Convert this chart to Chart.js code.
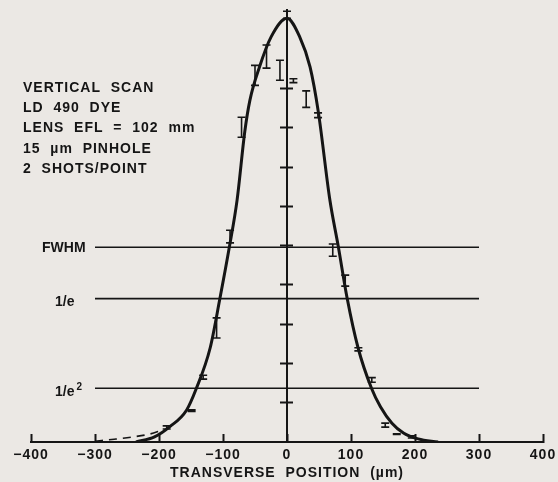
<!DOCTYPE html>
<html>
<head>
<meta charset="utf-8">
<script src="https://cdn.jsdelivr.net/npm/chart.js@4.4.1/dist/chart.umd.min.js"></script>
<style>
  html, body { margin: 0; padding: 0; background: #ebe8e4; }
  #wrap { width: 558px; height: 482px; position: relative; }
</style>
</head>
<body>
<div id="wrap"><canvas id="beamChart"></canvas></div>
<script>
// ---------------------------
// DATA
// ---------------------------
const xTicks = [-400, -300, -200, -100, 0, 100, 200, 300, 400];
const yTicks = [1, 2, 3, 4, 5, 6, 7, 8, 9];

// fitted profile (solid line)
const fitX = [-236, -207, -183, -157, -142, -120, -105, -90, -78, -66, -58, -43, -25, 0, 20, 36, 49, 67, 80, 94, 111, 132, 146, 164, 182, 205, 236];
const fitY = [0, 0.13, 0.39, 0.81, 1.35, 2.4, 3.64, 4.97, 6.16, 7.9, 8.7, 9.55, 10.31, 10.79, 10.31, 9.55, 8.4, 6.16, 4.99, 3.66, 2.4, 1.37, 0.9, 0.48, 0.23, 0.08, 0];

// left tail of the dashed curve
const tailX = [-300, -270, -240, -215, -195];
const tailY = [0.02, 0.07, 0.13, 0.2, 0.3];

// measured points: position, low end, high end
const pointX = [0, -11, -32, -50, 10, 30, 48.5, -71, -89, 71.5, 91, -110, 111.5, -131, 132.5, -149, 153.5, -188, 171.5, 195];
const pointLow = [10.79, 9.21, 9.52, 9.08, 9.15, 8.52, 8.26, 7.76, 5.07, 4.73, 3.97, 2.65, 2.32, 1.6, 1.52, 0.78, 0.38, 0.33, 0.19, 0.1];
const pointHigh = [10.97, 9.72, 10.11, 9.59, 9.25, 8.94, 8.38, 8.27, 5.39, 5.04, 4.25, 3.16, 2.4, 1.7, 1.64, 0.82, 0.48, 0.41, 0.21, 0.16];

// reference levels
const levelNames = ["FWHM", "1/e", "1/e"];
const levelSup = ["", "", "2"];
const levelY = [4.96, 3.65, 1.37];
const levelFrom = -300;
const levelTo = 300;

const infoLines = ["VERTICAL  SCAN", "LD  490  DYE", "LENS  EFL  =  102  mm", "15  µm  PINHOLE", "2  SHOTS/POINT"];

const ink = "#151515";
const font = "'Liberation Sans', Arial, sans-serif";

// ---------------------------
// DATASETS
// ---------------------------
let datasets = [];

datasets.push({
  data: fitX.map((v, i) => ({ x: v, y: fitY[i] })),
  showLine: true,
  borderColor: ink,
  borderWidth: 3,
  pointRadius: 0,
  cubicInterpolationMode: 'monotone'
});

datasets.push({
  data: tailX.map((v, i) => ({ x: v, y: tailY[i] })),
  showLine: true,
  borderColor: ink,
  borderWidth: 1.6,
  borderDash: [8, 6],
  pointRadius: 0,
  cubicInterpolationMode: 'monotone'
});

levelY.forEach(v => {
  datasets.push({
    data: [{ x: levelFrom, y: v }, { x: levelTo, y: v }],
    showLine: true,
    borderColor: ink,
    borderWidth: 1.6,
    pointRadius: 0
  });
});

// ---------------------------
// EXTRA DRAWING (error bars, notes)
// ---------------------------
const extras = {
  id: 'extras',
  beforeDraw(chart) {
    chart.ctx.letterSpacing = '1px';
  },
  afterDatasetsDraw(chart) {
    const { ctx, scales: { x, y } } = chart;
    ctx.save();
    ctx.strokeStyle = ink;
    ctx.lineWidth = 1.6;
    pointX.forEach((v, i) => {
      const px = x.getPixelForValue(v);
      const lo = y.getPixelForValue(pointLow[i]);
      const hi = y.getPixelForValue(pointHigh[i]);
      ctx.beginPath();
      ctx.moveTo(px, lo); ctx.lineTo(px, hi);
      ctx.moveTo(px - 4, lo); ctx.lineTo(px + 4, lo);
      ctx.moveTo(px - 4, hi); ctx.lineTo(px + 4, hi);
      ctx.stroke();
    });
    ctx.restore();
  },
  afterDraw(chart) {
    const { ctx, scales: { y } } = chart;
    ctx.save();
    ctx.fillStyle = ink;
    ctx.textBaseline = 'alphabetic';
    ctx.textAlign = 'left';

    ctx.letterSpacing = '1px';
    ctx.font = "bold 14px " + font;
    infoLines.forEach((t, i) => ctx.fillText(t, 23, 92 + i * 20.2));

    ctx.letterSpacing = '0px';
    levelNames.forEach((t, i) => {
      const py = y.getPixelForValue(levelY[i]);
      const left = i === 0 ? 42 : 55;
      const base = py + (i === 0 ? 5 : 7.5);
      ctx.font = "bold 14px " + font;
      ctx.fillText(t, left, base);
      if (levelSup[i]) {
        const w = ctx.measureText(t).width;
        ctx.font = "bold 10px " + font;
        ctx.fillText(levelSup[i], left + w + 2, base - 6);
      }
    });
    ctx.restore();
  }
};

// ---------------------------
// CHART
// ---------------------------
new Chart(document.getElementById("beamChart"), {
  type: 'scatter',
  data: { datasets: datasets },
  options: {
    responsive: true,
    maintainAspectRatio: false,
    animation: false,
    events: [],
    layout: { padding: { left: 31, right: 15, top: 10, bottom: 0 } },
    plugins: { legend: { display: false }, tooltip: { enabled: false } },
    scales: {
      x: {
        type: 'linear',
        min: -400,
        max: 400,
        afterBuildTicks: s => { s.ticks = xTicks.map(v => ({ value: v })); },
        afterFit: s => { s.height = 40; s.paddingLeft = 0; s.paddingRight = 0; },
        grid: { drawOnChartArea: false, tickLength: -8, tickWidth: 2, tickColor: ink },
        border: { color: ink, width: 2 },
        ticks: {
          padding: 13,
          color: ink,
          font: { family: font, size: 14, weight: 'bold' },
          callback: v => (v < 0 ? '\u2212' + Math.abs(v) : String(v))
        },
        title: {
          display: true,
          text: 'TRANSVERSE  POSITION  (\u00b5m)',
          color: ink,
          font: { family: font, size: 14, weight: 'bold' },
          padding: { top: 0, bottom: 0 }
        }
      },
      y: {
        type: 'linear',
        min: 0,
        max: 11,
        position: { x: 0 },
        afterBuildTicks: s => { s.ticks = yTicks.map(v => ({ value: v })); },
        grid: { drawOnChartArea: false, tickLength: 6, tickWidth: 2, tickColor: ink },
        border: { color: ink, width: 2 },
        ticks: { display: false }
      },
      y2: {
        type: 'linear',
        min: 0,
        max: 11,
        position: { x: 0 },
        afterBuildTicks: s => { s.ticks = yTicks.map(v => ({ value: v })); },
        grid: { drawOnChartArea: false, tickLength: -6, tickWidth: 2, tickColor: ink },
        border: { display: false },
        ticks: { display: false }
      }
    }
  },
  plugins: [extras]
});
</script>
</body>
</html>
